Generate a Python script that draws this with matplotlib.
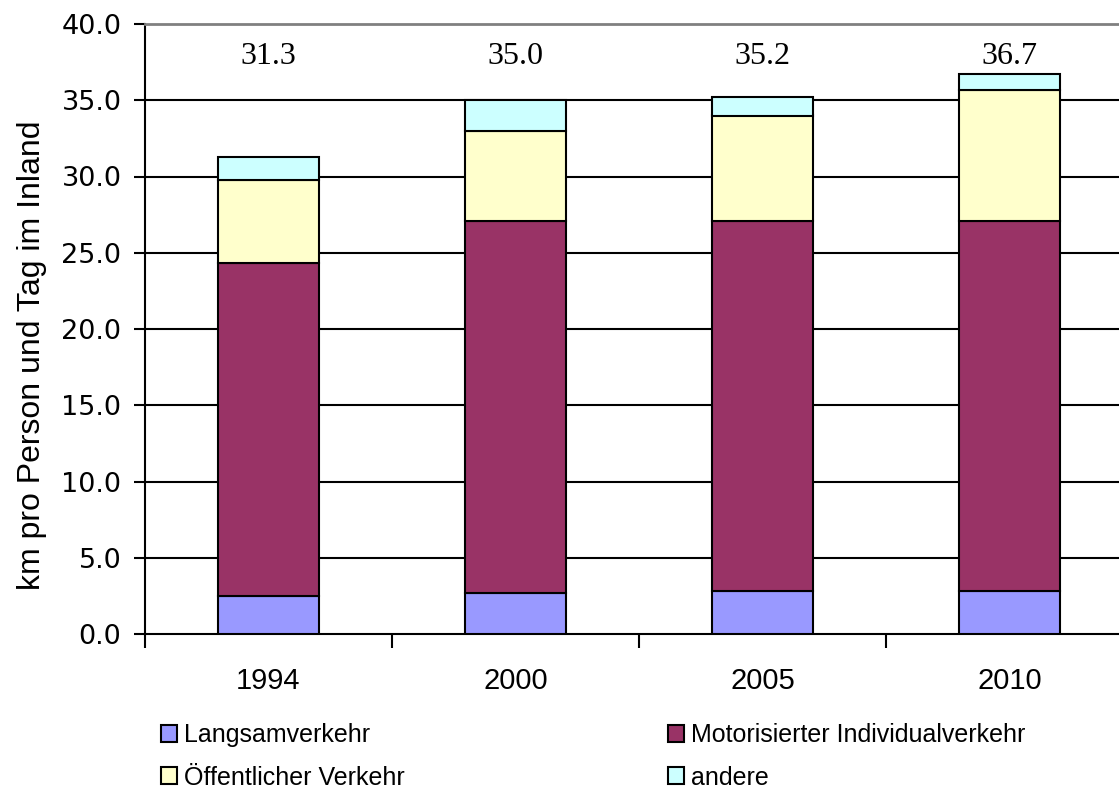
import matplotlib.pyplot as plt
import numpy as np

years = ['1994', '2000', '2005', '2010']
langsam = [2.5, 2.7, 2.8, 2.8]
motor = [21.8, 24.4, 24.3, 24.3]
oev = [5.5, 5.9, 6.9, 8.6]
andere = [1.5, 2.0, 1.2, 1.0]
totals = ['31.3', '35.0', '35.2', '36.7']

series = [
    ('Langsamverkehr', langsam, '#9999FF'),
    ('Motorisierter Individualverkehr', motor, '#993366'),
    ('Öffentlicher Verkehr', oev, '#FFFFCC'),
    ('andere', andere, '#CCFFFF'),
]

plt.rcParams['font.family'] = ['Liberation Sans', 'DejaVu Sans']

fig = plt.figure(figsize=(11.19, 7.92), dpi=100)
ax = fig.add_axes([145/1119, 1-634/792, (1133-145)/1119, (634-24)/792])

x = np.arange(len(years))
bottom = np.zeros(len(years))
handles = {}
for name, vals, col in series:
    b = ax.bar(x, vals, width=0.41, bottom=bottom, color=col, edgecolor='black',
               linewidth=1.5, label=name, zorder=3)
    handles[name] = b
    bottom += np.array(vals)

for i, t in enumerate(totals):
    ax.text(x[i], 37.9, t, ha='center', va='center', fontsize=23,
            family='Liberation Serif')

ax.set_xlim(-0.5, 3.5)
ax.set_ylim(0, 40)
ax.set_yticks(np.arange(0, 40.1, 5))
ax.set_yticklabels(['%.1f' % v for v in np.arange(0, 40.1, 5)], fontsize=19.5,
                   family='DejaVu Sans')
for v in np.arange(5, 40, 5):
    ax.axhline(v, color='black', linewidth=1.5, zorder=1)

ax.set_xticks(x)
ax.set_xticklabels(years, fontsize=21)
ax.set_xticks(np.arange(-0.5, 3.6, 1), minor=True)
ax.tick_params(axis='x', which='major', length=0, pad=24)
ax.tick_params(axis='x', which='minor', length=10, width=1.5, direction='out')
ax.tick_params(axis='y', length=8, width=1.5, direction='out', pad=9)

ax.spines['right'].set_visible(False)
ax.spines['top'].set_color('#808080')
ax.spines['top'].set_linewidth(2)
ax.spines['left'].set_linewidth(1.5)
ax.spines['bottom'].set_linewidth(1.5)

ax.set_ylabel('km pro Person und Tag im Inland', fontsize=23)
ax.yaxis.set_label_coords(-0.099, 0.457)

order = ['Langsamverkehr', 'Öffentlicher Verkehr', 'Motorisierter Individualverkehr', 'andere']
fig.legend([handles[n] for n in order], order, ncol=2, loc='lower left',
           bbox_to_anchor=(143/1119, -0.019), frameon=False, fontsize=18,
           handlelength=0.65, handleheight=0.65, handletextpad=0.3,
           columnspacing=10.5, labelspacing=0.73, borderaxespad=0.3)

plt.savefig('out.png', dpi=100)
